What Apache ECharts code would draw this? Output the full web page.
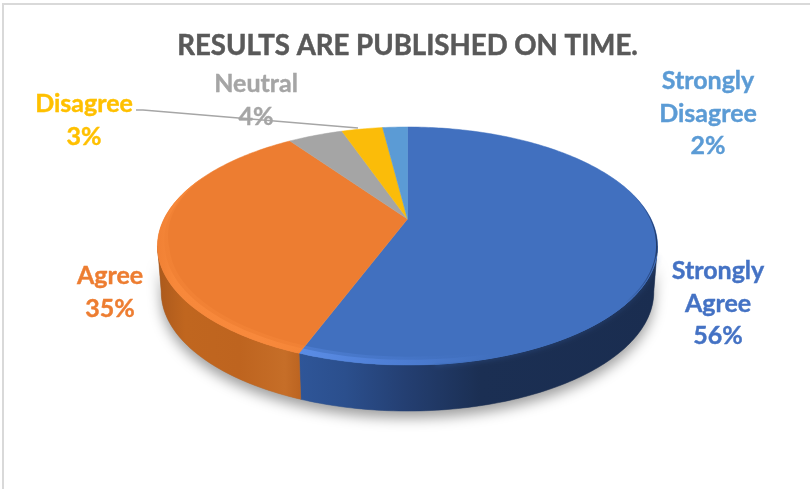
<!DOCTYPE html>
<html><head><meta charset="utf-8">
<style>html,body{margin:0;padding:0;background:#fff}#c{width:810px;height:489px}</style>
<script src="https://cdn.jsdelivr.net/npm/echarts@6/dist/echarts.min.js"></script>
</head><body><div id="c"></div>
<script>
const titleText = 'RESULTS ARE PUBLISHED ON TIME.';
const categories = ['Strongly Agree', 'Agree', 'Neutral', 'Disagree', 'Strongly Disagree'];
const values = [55.7, 34.6, 4.4, 3.3, 2.0];
const colors = ['#4170bf', '#ed7d31', '#a5a5a5', '#fbbc09', '#5b9bd5'];
const textColors = ['#4472c4', '#ed7d31', '#a5a5a5', '#ffc000', '#5b9bd5'];
const labelCentres = [[718, 255], [110, 260], [256, 68], [84, 88], [708, 65]];

// Projection of the disc: perspective-tilted, clockwise from 12 o'clock
const AX = 407.5, AY = 219, A = 243.5, B = 112.9, K = 0.227, DEPTH = 46, SHRINK = 0.985;
const total = values.reduce((a, b) => a + b, 0);
const rad = d => d * Math.PI / 180;
function upper(deg, r) {
  r = r === undefined ? 1 : r;
  const s = Math.sin(rad(deg)) * r, c = Math.cos(rad(deg)) * r, w = 1 + K * c;
  return [AX + A * s / w, AY - B * c / w];
}
function lower(deg) {
  const p = upper(deg);
  return [AX + (p[0] - AX) * SHRINK, p[1] + DEPTH];
}
function arc(fn, d0, d1, r) {
  const n = Math.max(2, Math.ceil(Math.abs(d1 - d0))), out = [];
  for (let i = 0; i <= n; i++) {
    const d = d0 + (d1 - d0) * i / n;
    out.push(fn(d, typeof r === 'function' ? r(d) : r));
  }
  return out;
}
function span(i) {
  let sum = 0;
  for (let j = 0; j < i; j++) sum += values[j];
  return [sum / total * 360, (sum + values[i]) / total * 360];
}
const hGrad = (x0, x1, stops) => new echarts.graphic.LinearGradient(x0, 0, x1, 0,
  stops.map(s => ({offset: (s[0] - x0) / (x1 - x0), color: s[1]})), true);
const wallFills = [
  hGrad(296, 660, [[296, '#2f5699'], [345, '#2b4f8d'], [405, '#243f72'], [480, '#1b2f53'], [660, '#1a2d50']]),
  hGrad(155, 302, [[155, '#a9581c'], [185, '#c0661f'], [240, '#be641f'], [285, '#c66e28'], [302, '#bb6320']])
];
const rimFills = [
  hGrad(296, 660, [[296, '#5b8de6'], [400, '#4d7dd3'], [490, '#4170bf'], [625, '#4170bf'], [645, '#2d5294'], [660, '#1d3560']]),
  hGrad(155, 302, [[155, '#f08034'], [175, '#f7883a'], [260, '#f8893c'], [302, '#f58638']])
];
const softFills = [
  hGrad(296, 660, [[296, 'rgba(91,141,230,0.4)'], [400, 'rgba(77,125,211,0.4)'], [490, 'rgba(65,112,191,0)'], [660, 'rgba(65,112,191,0)']]),
  hGrad(155, 302, [[155, 'rgba(247,136,58,0.4)'], [302, 'rgba(247,136,58,0.4)']])
];
const WALL = [103, 257];
// inner radius of the bevel: tapers out towards its ends
function taper(base) {
  return d => {
    if (d < 100) return 1 - (1 - base) * 0.2 * Math.max(0, (d - 60) / 40);
    if (d < 175) return 1 - (1 - base) * Math.max(0.2, (d - 110) / 65);
    if (d > 255) return 1 - (1 - base) * Math.max(0, (295 - d) / 40);
    return base;
  };
}

const option = {
  animation: false,
  backgroundColor: '#ffffff',
  title: {
    text: titleText, left: 402.5, top: 27, textAlign: 'center',
    textStyle: {fontFamily: 'Lato', fontWeight: 'bold', fontSize: 27.6, color: '#595959',
      textBorderColor: '#595959', textBorderWidth: 0.5}
  },
  graphic: [
    {type: 'polyline', z: 1, shape: {points: [[3, 489], [3, 4], [810, 4]]}, style: {stroke: '#d9d9d9', lineWidth: 2, fill: null}}
  ],
  series: [
    { // soft shadow under the disc
      type: 'custom', coordinateSystem: 'none', silent: true, z: 2, data: [total],
      renderItem: () => ({
        type: 'polygon',
        shape: {points: arc(upper, WALL[0], WALL[1]).concat(arc(lower, WALL[1], WALL[0]))},
        style: {fill: '#8a8a8a', shadowBlur: 13, shadowColor: 'rgba(0,0,0,0.38)', shadowOffsetY: 7}
      })
    },
    { // side walls
      type: 'custom', coordinateSystem: 'none', silent: true, z: 3, data: values,
      renderItem: params => {
        const [s, e] = span(params.dataIndex);
        const d0 = Math.max(s, WALL[0]), d1 = Math.min(e, WALL[1]);
        if (d1 <= d0) return {type: 'group', children: []};
        return {
          type: 'polygon',
          shape: {points: arc(upper, d0, d1).concat(arc(lower, d1, d0))},
          style: {fill: wallFills[params.dataIndex], stroke: wallFills[params.dataIndex], lineWidth: 0.5}
        };
      }
    },
    { // top faces
      type: 'custom', coordinateSystem: 'none', silent: true, z: 4, data: values,
      renderItem: params => {
        const i = params.dataIndex, [s, e] = span(i);
        return {
          type: 'polygon',
          shape: {points: [[AX, AY]].concat(arc(upper, s, e))},
          style: {fill: colors[i], stroke: colors[i], lineWidth: 0.5}
        };
      }
    },
    { // bevel along the near rim
      type: 'custom', coordinateSystem: 'none', silent: true, z: 5, data: values,
      renderItem: params => {
        const i = params.dataIndex, [s, e] = span(i);
        if (i > 1) return {type: 'group', children: []};
        const d0 = Math.max(s, 60), d1 = Math.min(e, 295);
        const children = [
          {type: 'polygon',
           shape: {points: arc(upper, d0, d1, 1).concat(arc(upper, d1, d0, taper(0.955)))},
           style: {fill: softFills[i]}},
          {type: 'polygon',
           shape: {points: arc(upper, d0, d1, 1).concat(arc(upper, d1, d0, taper(0.972)))},
           style: {fill: rimFills[i]}}
        ];
        if (i === 0) {
          children.push({type: 'polyline',
            shape: {points: arc(upper, 108, 175, 1)},
            style: {stroke: '#4170bf', lineWidth: 1, fill: null, shadowBlur: 5, shadowColor: '#4170bf'}});
        }
        return {type: 'group', children};
      }
    },
    { // value labels
      type: 'custom', coordinateSystem: 'none', silent: true, z: 6, data: values,
      renderItem: params => {
        const i = params.dataIndex;
        return {
          type: 'text',
          style: {
            x: labelCentres[i][0], y: labelCentres[i][1],
            text: categories[i].replace(' ', '\n') + '\n' + Math.round(values[i] / total * 100) + '%',
            align: 'center', verticalAlign: 'top', lineHeight: 32.5,
            fontFamily: 'Lato', fontWeight: 'bold', fontSize: 25, fill: textColors[i],
            stroke: textColors[i], lineWidth: 0.4
          }
        };
      }
    },
    { // leader line for the Disagree label
      type: 'custom', coordinateSystem: 'none', silent: true, z: 7, data: [values[3]],
      renderItem: () => ({
        type: 'polyline',
        shape: {points: [[136, 110], [143, 110], [358, 128]]},
        style: {stroke: '#a6a6a6', lineWidth: 1.5, fill: null}
      })
    }
  ]
};
echarts.init(document.getElementById('c'), null, {renderer: 'canvas'}).setOption(option);
</script></body></html>
